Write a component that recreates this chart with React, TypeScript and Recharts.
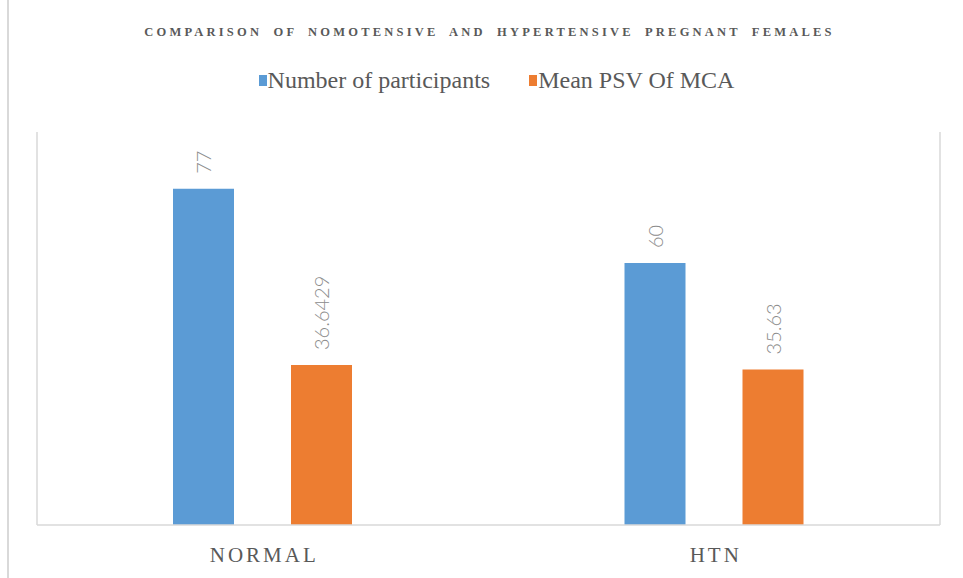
import React from 'react';
import { BarChart, Bar, XAxis, YAxis, Legend, LabelList, ReferenceLine } from 'recharts';

const categories = ['NORMAL', 'HTN'];
const participants = [77, 60];
const meanPSV = [36.6429, 35.63];
const seriesNames = ['Number of participants', 'Mean PSV Of MCA'];
const seriesColors = ['#5B9BD5', '#ED7D31'];
const gridTicks = [0, 1, 2];
const title = 'COMPARISON OF NOMOTENSIVE AND HYPERTENSIVE PREGNANT FEMALES';

const data = categories.map((c, i) => ({ name: c, participants: participants[i], psv: meanPSV[i] }));

const RotLabel = (props: any) => {
  const { x, y, width, value } = props;
  const cx = Number(x) + Number(width) / 2;
  const ty = Number(y) - 15;
  return (
    <text
      x={cx}
      y={ty}
      transform={`rotate(-90 ${cx} ${ty})`}
      textAnchor="start"
      dominantBaseline="central"
      fill="#8c8c8c"
      fontSize={20}
      fontFamily="Lato"
      fontWeight={300}
    >
      {String(value)}
    </text>
  );
};

const CatTick = (props: any) => {
  const { x, y, payload } = props;
  return (
    <text
      x={x + 1.5}
      y={y + 29}
      textAnchor="middle"
      fill="#595959"
      fontFamily="Liberation Serif"
      fontSize={21}
      letterSpacing={3}
    >
      {payload.value}
    </text>
  );
};

const LegendContent = (props: any) => {
  const payload = [...(props.payload || [])].sort(
    (a: any, b: any) => seriesNames.indexOf(a.value) - seriesNames.indexOf(b.value)
  );
  return (
    <div style={{ display: 'flex', justifyContent: 'center', paddingLeft: 30 }}>
      {payload.map((p: any, i: number) => (
        <div key={i} style={{ display: 'flex', alignItems: 'center', marginRight: i === 0 ? 39 : 0 }}>
          <span style={{ display: 'inline-block', width: 8, height: 11, background: p.color, marginRight: 1 }} />
          <span style={{ fontFamily: "'Liberation Serif', serif", fontSize: 24, color: '#595959', lineHeight: '26px' }}>{p.value}</span>
        </div>
      ))}
    </div>
  );
};

export default function App() {
  return (
    <div style={{ position: 'absolute', left: 0, top: 0, width: 963, height: 578, background: '#fff' }}>
      <div style={{ position: 'absolute', left: 7, top: 0, width: 2, height: 578, background: '#d9d9d9' }} />
      <div
        style={{
          position: 'absolute',
          left: 8,
          top: 25,
          width: 963,
          textAlign: 'center',
          fontFamily: 'Liberation Serif',
          fontSize: 12.5,
          letterSpacing: 3.2,
          wordSpacing: 5,
          color: '#595959',
          fontWeight: 'bold',
        }}
      >
        {title}
      </div>
      <BarChart
        width={963}
        height={578}
        data={data}
        margin={{ top: 132, right: 23, bottom: 23, left: 37 }}
        barSize={61}
        barGap={57}
      >
        <XAxis
          dataKey="name"
          height={30}
          axisLine={{ stroke: '#d9d9d9', strokeWidth: 1.5 }}
          tickLine={false}
          tick={<CatTick />}
          interval={0}
        />
        <XAxis xAxisId="grid" type="number" domain={[0, 2]} ticks={gridTicks} hide />
        <YAxis hide domain={[0, 90]} />
        {gridTicks.map((t) => (
          <ReferenceLine key={t} x={t} xAxisId="grid" stroke="#d9d9d9" strokeWidth={1.5} />
        ))}
        <Legend
          verticalAlign="middle"
          align="center"
          content={<LegendContent />}
          wrapperStyle={{ top: 67, left: 0, width: 963 }}
        />
        <Bar dataKey="participants" name={seriesNames[0]} fill={seriesColors[0]} isAnimationActive={false}>
          <LabelList dataKey="participants" content={<RotLabel />} />
        </Bar>
        <Bar dataKey="psv" name={seriesNames[1]} fill={seriesColors[1]} isAnimationActive={false}>
          <LabelList dataKey="psv" content={<RotLabel />} />
        </Bar>
      </BarChart>
    </div>
  );
}
